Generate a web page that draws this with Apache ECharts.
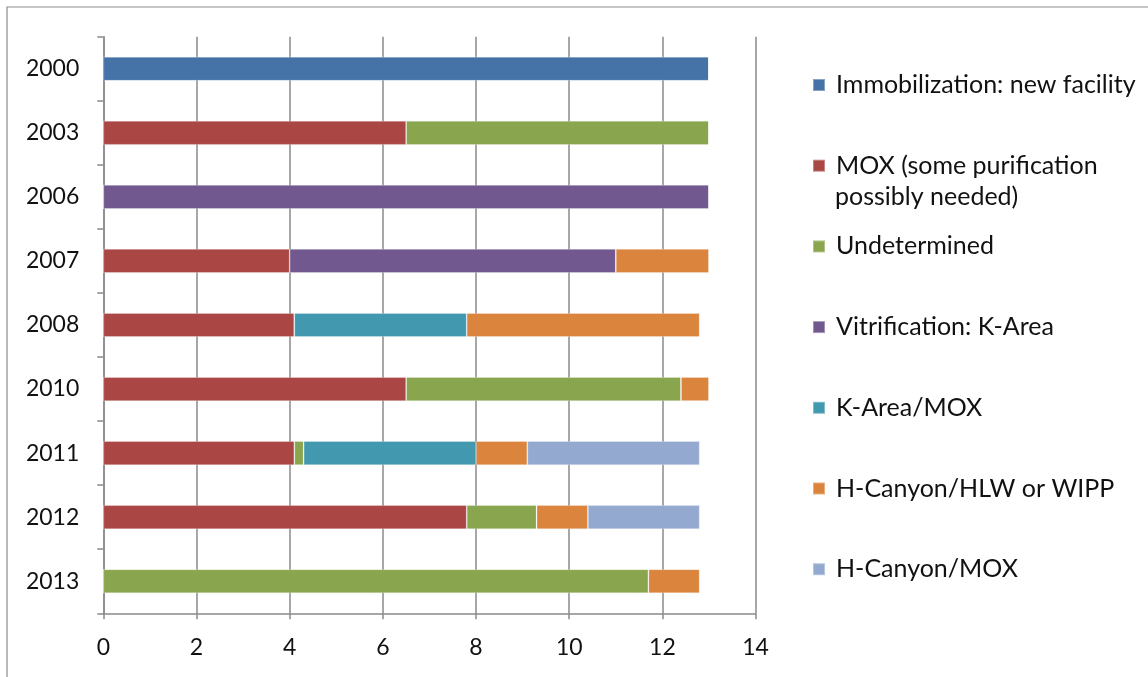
<!DOCTYPE html>
<html>
<head>
<meta charset="utf-8">
<script src="https://cdn.jsdelivr.net/npm/echarts@6/dist/echarts.min.js"></script>
<style>
  html, body { margin: 0; padding: 0; background: #fff; }
  #chart { width: 1148px; height: 677px; }
</style>
</head>
<body>
<div id="chart"></div>
<script>
// Years shown on the category axis (top to bottom)
const years = ['2000', '2003', '2006', '2007', '2008', '2010', '2011', '2012', '2013'];

// Disposition path amounts per year (0 = not part of that year's plan)
const immobilization = [13, 0, 0, 0, 0, 0, 0, 0, 0];
const mox            = [0, 6.5, 0, 4, 4.1, 6.5, 4.1, 7.8, 0];
const undetermined   = [0, 6.5, 0, 0, 0, 5.9, 0.2, 1.5, 11.7];
const vitrification  = [0, 0, 13, 7, 0, 0, 0, 0, 0];
const kAreaMox       = [0, 0, 0, 0, 3.7, 0, 3.7, 0, 0];
const hCanyonHlw     = [0, 0, 0, 2, 5.0, 0.6, 1.1, 1.1, 1.1];
const hCanyonMox     = [0, 0, 0, 0, 0, 0, 3.7, 2.4, 0];

const xTicks = [0, 2, 4, 6, 8, 10, 12, 14];

const seriesDefs = [
  { name: 'Immobilization: new facility', data: immobilization, color: '#4572A7' },
  { name: 'MOX (some purification possibly needed)', data: mox, color: '#AA4643' },
  { name: 'Undetermined', data: undetermined, color: '#89A54E' },
  { name: 'Vitrification: K-Area', data: vitrification, color: '#71588F' },
  { name: 'K-Area/MOX', data: kAreaMox, color: '#4198AF' },
  { name: 'H-Canyon/HLW or WIPP', data: hCanyonHlw, color: '#DB843D' },
  { name: 'H-Canyon/MOX', data: hCanyonMox, color: '#93A9CF' }
];

const FONT = 'Lato';
const axisGray = '#8a8a8a';
const textColor = '#111111';

const chart = echarts.init(document.getElementById('chart'), null, { renderer: 'canvas' });

chart.setOption({
  animation: false,
  backgroundColor: '#ffffff',
  grid: { left: 103.3, right: 392.4, top: 36.7, bottom: 63.7, containLabel: false },
  xAxis: {
    type: 'value',
    min: xTicks[0],
    max: xTicks[xTicks.length - 1],
    interval: 2,
    axisLine: { show: true, lineStyle: { color: axisGray, width: 1.5 } },
    axisTick: { show: true, length: 6, lineStyle: { color: axisGray, width: 1.5 } },
    splitLine: { show: true, lineStyle: { color: axisGray, width: 1.5 } },
    axisLabel: { color: textColor, fontFamily: FONT, fontSize: 23, margin: 23 }
  },
  yAxis: {
    type: 'category',
    data: years,
    inverse: true,
    axisLine: { show: true, lineStyle: { color: axisGray, width: 1.5 } },
    axisTick: { show: true, length: 6, inside: false, lineStyle: { color: axisGray, width: 1.5 } },
    splitLine: { show: false },
    axisLabel: { color: textColor, fontFamily: FONT, fontSize: 23, margin: 24 }
  },
  legend: {
    orient: 'vertical',
    left: 807,
    top: 67,
    itemWidth: 12,
    itemHeight: 12,
    itemGap: 54.7,
    icon: 'rect',
    selectedMode: false,
    formatter: function (name) {
      return name.indexOf('MOX (some') === 0 ? 'MOX (some purification' : name;
    },
    textStyle: { color: textColor, fontFamily: FONT, fontSize: 25, lineHeight: 26, padding: [0, 0, 0, 6] },
    data: seriesDefs.map(s => s.name)
  },
  graphic: [
    {
      type: 'rect',
      shape: { x: 7, y: 7, width: 1160, height: 700 },
      style: { fill: 'none', stroke: '#8c8c8c', lineWidth: 1.2 },
      silent: true
    },
    {
      type: 'text',
      left: 835,
      top: 184,
      style: { text: 'possibly needed)', fill: textColor, font: '25px ' + FONT }
    }
  ],
  series: seriesDefs.map(s => ({
    name: s.name,
    type: 'bar',
    stack: 'total',
    barWidth: 24,
    data: s.data,
    itemStyle: { color: s.color, borderColor: 'rgba(255,255,255,0.35)', borderWidth: 0.8 }
  }))
});
</script>
</body>
</html>
